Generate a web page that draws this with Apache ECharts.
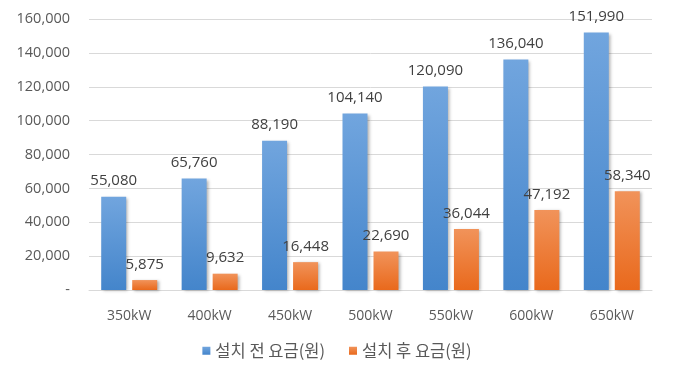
<!DOCTYPE html>
<html>
<head>
<meta charset="utf-8">
<script src="https://cdn.jsdelivr.net/npm/echarts@6/dist/echarts.min.js"></script>
<style>
html,body{margin:0;padding:0;background:#fff;}
#chart{width:674px;height:370px;}
</style>
</head>
<body>
<div id="chart"></div>
<script>
const categories = ['350kW','400kW','450kW','500kW','550kW','600kW','650kW'];
const seriesNames = ['설치 전 요금(원)','설치 후 요금(원)'];
const beforeValues = [55080, 65760, 88190, 104140, 120090, 136040, 151990];
const afterValues = [5875, 9632, 16448, 22690, 36044, 47192, 58340];
const yTicks = [0, 20000, 40000, 60000, 80000, 100000, 120000, 140000, 160000];

const FONT = "Open Sans";
const KFONT = "Noto Sans CJK KR";
const fmt = v => v === 0 ? '-' : Number(v).toLocaleString('en-US');

function grad(top, bottom){
  return new echarts.graphic.LinearGradient(0,0,0,1,[{offset:0,color:top},{offset:1,color:bottom}]);
}
const shadow = {shadowColor:'rgba(0,0,0,0.3)', shadowBlur:3, shadowOffsetX:2, shadowOffsetY:1};

const chart = echarts.init(document.getElementById('chart'));
chart.setOption({
  animation:false,
  backgroundColor:'#fff',
  grid:{left:89, right:22, top:19, bottom:80, containLabel:false},
  legend:{
    data:seriesNames,
    bottom:6,
    left:'center',
    icon:'rect',
    itemWidth:8,
    itemHeight:8,
    itemGap:24,
    textStyle:{fontFamily:KFONT, fontSize:16.5, color:'#595959', padding:[8,0,0,0]}
  },
  xAxis:{
    type:'category',
    data:categories,
    axisTick:{show:false},
    axisLine:{lineStyle:{color:'#d9d9d9', width:1}},
    axisLabel:{fontFamily:FONT, fontSize:14, color:'#595959', margin:19}
  },
  yAxis:{
    type:'value',
    min:yTicks[0],
    max:yTicks[yTicks.length-1],
    interval:yTicks[1]-yTicks[0],
    axisLine:{show:false},
    axisTick:{show:false},
    splitLine:{lineStyle:{color:'#d9d9d9', width:1}},
    axisLabel:{fontFamily:FONT, fontSize:14.5, color:'#595959', margin:19, formatter:fmt}
  },
  series:[
    {
      name:seriesNames[0],
      type:'bar',
      data:beforeValues,
      barWidth:25,
      barGap:'24%',
      itemStyle:Object.assign({color:grad('#71a5de','#4485cb')}, shadow),
      label:{show:true, position:'top', distance:8, fontFamily:FONT, fontSize:15, color:'#404040', formatter:p=>fmt(p.value)}
    },
    {
      name:seriesNames[1],
      type:'bar',
      data:afterValues,
      barWidth:25,
      barGap:'24%',
      itemStyle:Object.assign({color:grad('#f1935a','#e9691c')}, shadow),
      label:{show:true, position:'top', distance:8, fontFamily:FONT, fontSize:15, color:'#404040', formatter:p=>fmt(p.value)}
    }
  ]
});
</script>
</body>
</html>
